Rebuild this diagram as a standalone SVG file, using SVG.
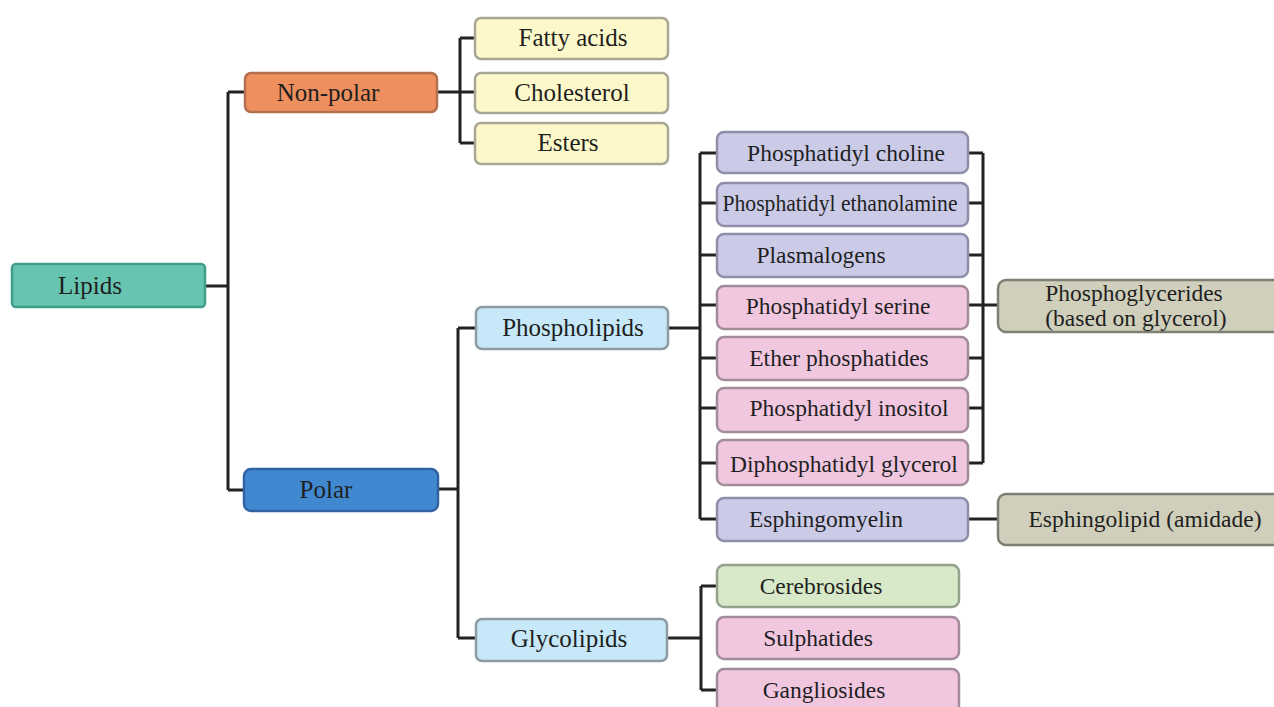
<svg xmlns="http://www.w3.org/2000/svg" width="1274" height="707" viewBox="0 0 1274 707">
<style>
  .box { stroke-width: 2.5; }
  .t { font-family: "Liberation Serif", "Times New Roman", serif; fill: #1f1f1f; text-anchor: middle; }
  .m { font-size: 25px; }
  .s { font-size: 23.5px; }
  .teal { fill: #66c4b0; stroke: #3d9e89; }
  .orange { fill: #ee8f5e; stroke: #b3704f; }
  .yellow { fill: #fcf8c9; stroke: #a8a796; }
  .lblue { fill: #c6e8f8; stroke: #8e9ba5; }
  .blue { fill: #4088d0; stroke: #2f63a2; }
  .purple { fill: #cbcbe8; stroke: #8f8ea9; }
  .pink { fill: #f0c7df; stroke: #a38c9a; }
  .green { fill: #d7e9c9; stroke: #94a18b; }
  .khaki { fill: #cfcfbb; stroke: #7f7f74; }
  .conn { fill: none; stroke: #222; stroke-width: 3; }
</style>
<rect width="1274" height="707" fill="#ffffff"/>
<g id="connectors" class="conn">
  <path d="M205 286 H228 M228 92 V490 M228 92 H245 M228 490 H244"/>
  <path d="M437 92 H460 M460 38 V143 M460 38 H475 M460 92 H475 M460 143 H475"/>
  <path d="M438 489 H458 M458 328 V638 M458 328 H476 M458 638 H476"/>
  <path d="M668 328 H700 M700 153 V519 M700 153 H717 M700 203 H717 M700 255 H717 M700 305 H717 M700 358 H717 M700 408 H717 M700 463 H717 M700 519 H717"/>
  <path d="M968 153 H983 M968 203 H983 M968 255 H983 M968 305 H983 M968 358 H983 M968 408 H983 M968 463 H983 M983 153 V463 M983 305 H998"/>
  <path d="M968 519 H998"/>
  <path d="M667 638 H701 M701 586 V690 M701 586 H717 M701 690 H717"/>
</g>
<g id="lipids"><rect class="box teal" x="12" y="264" width="193" height="43" rx="4"/><text class="t m" x="90" y="294">Lipids</text></g>
<g id="nonpolar"><rect class="box orange" x="245" y="73" width="192" height="39" rx="6"/><text class="t m" x="328" y="101">Non-polar</text></g>
<g id="fatty"><rect class="box yellow" x="475" y="18" width="193" height="41" rx="6"/><text class="t m" x="573" y="46">Fatty acids</text></g>
<g id="cholesterol"><rect class="box yellow" x="475" y="73" width="193" height="40" rx="6"/><text class="t m" x="572" y="101">Cholesterol</text></g>
<g id="esters"><rect class="box yellow" x="475" y="123" width="193" height="41" rx="6"/><text class="t m" x="568" y="151">Esters</text></g>
<g id="polar"><rect class="box blue" x="244" y="469" width="194" height="42" rx="7"/><text class="t m" x="326" y="498">Polar</text></g>
<g id="phospholipids"><rect class="box lblue" x="476" y="307" width="192" height="42" rx="6"/><text class="t m" x="573" y="336">Phospholipids</text></g>
<g id="glycolipids"><rect class="box lblue" x="476" y="619" width="191" height="42" rx="6"/><text class="t m" x="569" y="647">Glycolipids</text></g>
<g id="pchol"><rect class="box purple" x="717" y="132" width="251" height="41" rx="7"/><text class="t s" x="846" y="161">Phosphatidyl choline</text></g>
<g id="peth"><rect class="box purple" x="717" y="183" width="251" height="43" rx="7"/><text class="t s" x="840" y="211" textLength="235" lengthAdjust="spacingAndGlyphs">Phosphatidyl ethanolamine</text></g>
<g id="plasm"><rect class="box purple" x="717" y="234" width="251" height="43" rx="7"/><text class="t s" x="821" y="263">Plasmalogens</text></g>
<g id="pser"><rect class="box pink" x="717" y="286" width="251" height="43" rx="7"/><text class="t s" x="838" y="314">Phosphatidyl serine</text></g>
<g id="ether"><rect class="box pink" x="717" y="337" width="251" height="43" rx="7"/><text class="t s" x="839" y="366">Ether phosphatides</text></g>
<g id="pino"><rect class="box pink" x="717" y="388" width="251" height="44" rx="7"/><text class="t s" x="849" y="416">Phosphatidyl inositol</text></g>
<g id="diph"><rect class="box pink" x="717" y="440" width="251" height="45" rx="7"/><text class="t s" x="844" y="472">Diphosphatidyl glycerol</text></g>
<g id="esphingomyelin"><rect class="box purple" x="717" y="498" width="251" height="43" rx="7"/><text class="t s" x="826" y="527">Esphingomyelin</text></g>
<g id="phosphoglycerides"><rect class="box khaki" x="998" y="280" width="290" height="52" rx="8"/><text class="t s" x="1134" y="301">Phosphoglycerides</text><text class="t s" x="1136" y="326">(based on glycerol)</text></g>
<g id="esphingolipid"><rect class="box khaki" x="998" y="494" width="290" height="51" rx="8"/><text class="t s" x="1145" y="527">Esphingolipid (amidade)</text></g>
<g id="cerebrosides"><rect class="box green" x="717" y="565" width="242" height="42" rx="7"/><text class="t s" x="821" y="594">Cerebrosides</text></g>
<g id="sulphatides"><rect class="box pink" x="717" y="617" width="242" height="42" rx="7"/><text class="t s" x="818" y="646">Sulphatides</text></g>
<g id="gangliosides"><rect class="box pink" x="717" y="669" width="242" height="50" rx="7"/><text class="t s" x="824" y="698">Gangliosides</text></g>
</svg>
